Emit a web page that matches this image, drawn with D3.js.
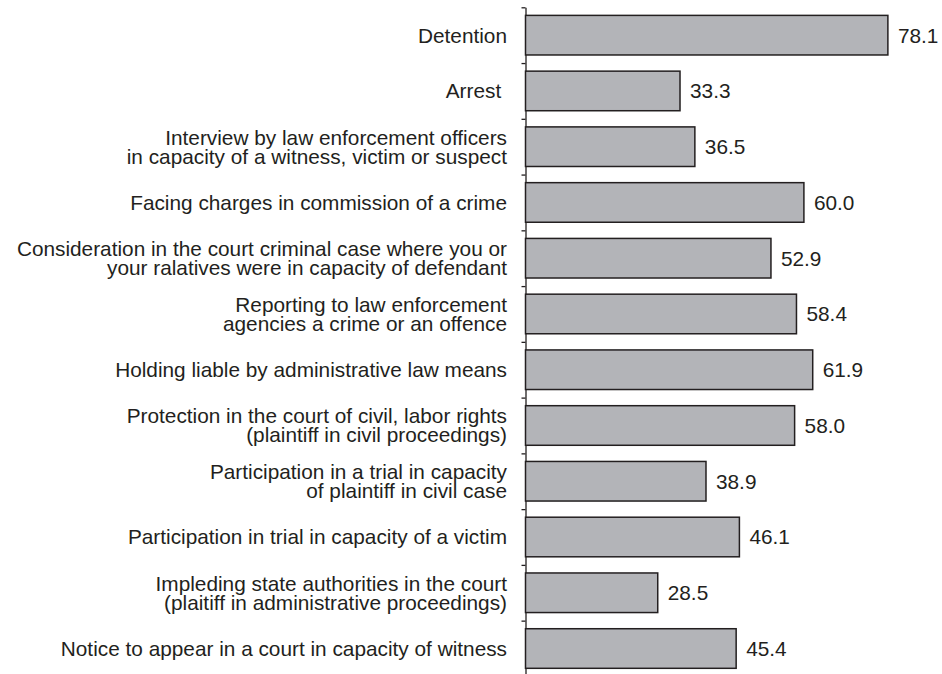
<!DOCTYPE html>
<html>
<head>
<meta charset="utf-8">
<script src="https://cdn.jsdelivr.net/npm/d3@7"></script>
<style>
  body { margin: 0; background: #fff; }
  text { font-family: "Liberation Sans", Arial, sans-serif; fill: #231f20; }
</style>
</head>
<body>
<div id="chart"></div>
<script>
const WIDTH = 942;
const HEIGHT = 674;
const FONT = 20.8;
const LINE = 19;

// each category is a list of text lines
const categories = [
    ["Detention"],
    ["Arrest "],
    ["Interview by law enforcement officers", "in capacity of a witness, victim or suspect"],
    ["Facing charges in commission of a crime"],
    ["Consideration in the court criminal case where you or", "your ralatives were in capacity of defendant"],
    ["Reporting to law enforcement", "agencies a crime or an offence"],
    ["Holding liable by administrative law means"],
    ["Protection in the court of civil, labor rights", "(plaintiff in civil proceedings)"],
    ["Participation in a trial in capacity", "of plaintiff in civil case"],
    ["Participation in trial in capacity of a victim"],
    ["Impleding state authorities in the court", "(plaitiff in administrative proceedings)"],
    ["Notice to appear in a court in capacity of witness"]
];
const values = [78.1, 33.3, 36.5, 60.0, 52.9, 58.4, 61.9, 58.0, 38.9, 46.1, 28.5, 45.4];

const dataset = categories.map(function (c, i) {
    return { key: c.join(" "), lines: c, value: values[i] };
});

const svg = d3.select("#chart")
    .append("svg")
    .attr("width", WIDTH)
    .attr("height", HEIGHT);

const x0 = 525.5;
const x = d3.scaleLinear().domain([0, 80]).range([x0, x0 + 80 * 4.64]);

const yTop = 7.3, yBottom = 676.4;
const y = d3.scaleBand()
    .domain(dataset.map(function (d) { return d.key; }))
    .range([yTop, yBottom])
    .paddingInner(0.29)
    .paddingOuter(0.145);

// axis with ticks at the band boundaries
const yIdx = d3.scaleLinear().domain([0, categories.length]).range([yTop, yBottom]);
const axis = svg.append("g")
    .attr("transform", "translate(" + x0 + ",0)")
    .call(d3.axisLeft(yIdx)
        .tickValues(d3.range(categories.length))
        .tickSize(4)
        .tickSizeOuter(0)
        .tickFormat(""));
axis.selectAll("path, line").attr("stroke", "#231f20").attr("stroke-width", 1.3);

svg.selectAll("rect.bar")
    .data(dataset)
    .enter()
    .append("rect")
    .attr("class", "bar")
    .attr("x", x(0))
    .attr("y", function (d) { return y(d.key); })
    .attr("width", function (d) { return x(d.value) - x(0); })
    .attr("height", y.bandwidth())
    .attr("fill", "#b3b4b8")
    .attr("stroke", "#231f20")
    .attr("stroke-width", 1.5);

// value labels
svg.selectAll("text.val")
    .data(dataset)
    .enter()
    .append("text")
    .attr("class", "val")
    .attr("x", function (d) { return x(d.value) + 10; })
    .attr("y", function (d) { return y(d.key) + y.bandwidth() / 2 + FONT * 0.358; })
    .attr("font-size", FONT)
    .text(function (d) { return d.value.toFixed(1); });

// category labels
const labels = svg.selectAll("text.cat")
    .data(dataset)
    .enter()
    .append("text")
    .attr("class", "cat")
    .attr("text-anchor", "end")
    .attr("font-size", FONT)
    .style("white-space", "pre");

labels.selectAll("tspan")
    .data(function (d) {
        const c = y(d.key) + y.bandwidth() / 2;
        const n = d.lines.length;
        return d.lines.map(function (t, i) {
            return { t: t, y: c + (i - (n - 1) / 2) * LINE + FONT * 0.358 };
        });
    })
    .enter()
    .append("tspan")
    .attr("x", 507)
    .attr("y", function (d) { return d.y; })
    .text(function (d) { return d.t; });
</script>
</body>
</html>
